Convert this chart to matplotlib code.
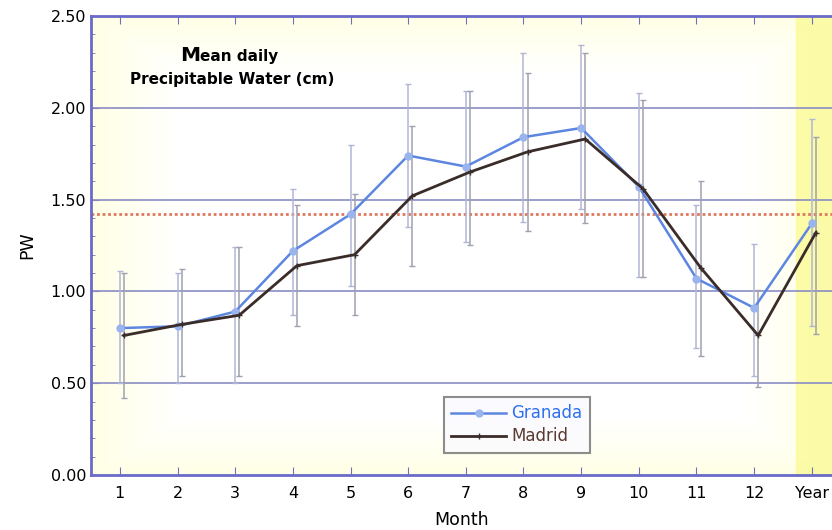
import numpy as np
import matplotlib
matplotlib.use("Agg")
import matplotlib.pyplot as plt
from matplotlib.ticker import MultipleLocator

months = ["1", "2", "3", "4", "5", "6", "7", "8", "9", "10", "11", "12", "Year"]

granada = [0.80, 0.81, 0.89, 1.22, 1.42, 1.74, 1.68, 1.84, 1.89, 1.57, 1.07, 0.91, 1.37]
granada_hi = [1.11, 1.10, 1.24, 1.56, 1.80, 2.13, 2.09, 2.30, 2.34, 2.08, 1.47, 1.26, 1.94]
granada_lo = [0.50, 0.50, 0.50, 0.87, 1.03, 1.35, 1.27, 1.38, 1.45, 1.08, 0.69, 0.54, 0.81]

madrid = [0.76, 0.82, 0.87, 1.14, 1.20, 1.52, 1.65, 1.76, 1.83, 1.56, 1.13, 0.76, 1.32]
madrid_hi = [1.10, 1.12, 1.24, 1.47, 1.53, 1.90, 2.09, 2.19, 2.30, 2.04, 1.60, 1.01, 1.84]
madrid_lo = [0.42, 0.54, 0.54, 0.81, 0.87, 1.14, 1.25, 1.33, 1.37, 1.08, 0.65, 0.48, 0.77]

mean_level = 1.42

x = np.arange(1, len(months) + 1)
xm = x + 0.07

fig = plt.figure(figsize=(8.32, 5.30), dpi=100)
ax = fig.add_axes([0.1094, 0.1038, 0.8906, 0.866])

# pale yellow backdrop with a whiter centre
ny, nx = 200, 400
yy, xx = np.mgrid[0:1:ny * 1j, 0:1:nx * 1j]
edge = np.minimum.reduce([xx, 1 - xx, yy, 1 - yy])
w = np.clip(edge / 0.12, 0, 1)
img = np.ones((ny, nx, 3))
img[..., 2] = 0.90 + 0.10 * w
ax.imshow(img, extent=[0.5, 13.35, 0, 2.5], aspect="auto", zorder=0)
ax.axvspan(12.72, 13.35, color="#fbfb9c", alpha=0.85, zorder=1)

for yv in [0.5, 1.0, 1.5, 2.0]:
    ax.axhline(yv, color="#8a8cc4", lw=1.2, zorder=2)
ax.axhline(mean_level, color="#e07860", lw=2, ls=(0, (1, 1)), zorder=2)

g_err = [np.array(granada) - np.array(granada_lo), np.array(granada_hi) - np.array(granada)]
m_err = [np.array(madrid) - np.array(madrid_lo), np.array(madrid_hi) - np.array(madrid)]
ax.errorbar(x, granada, yerr=g_err, fmt="none", ecolor="#b0b6d6", elinewidth=1.1,
            capsize=2.5, capthick=1, zorder=3)
ax.errorbar(xm, madrid, yerr=m_err, fmt="none", ecolor="#a0a0ae", elinewidth=1.1,
            capsize=2.5, capthick=1, zorder=3)

ax.plot(x, granada, color="#5d86e0", lw=1.8, marker="o", ms=5,
        mfc="#9ab4ee", mec="#9ab4ee", zorder=4, label="Granada")
ax.plot(xm, madrid, color="#3a2c28", lw=2.0, marker="+", ms=5,
        mec="#3a2c28", zorder=5, label="Madrid")

ax.set_xlim(0.5, 13.35)
ax.set_ylim(0, 2.5)
ax.set_xticks(x)
ax.set_xticklabels(months)
ax.yaxis.set_major_locator(MultipleLocator(0.5))
ax.yaxis.set_minor_locator(MultipleLocator(0.1))
ax.yaxis.set_major_formatter(matplotlib.ticker.FormatStrFormatter("%.2f"))
ax.tick_params(axis="both", which="both", direction="in", color="#7070b8",
               labelsize=11.5, top=True)
ax.tick_params(axis="y", which="major", length=6)
ax.tick_params(axis="y", which="minor", length=3)
ax.tick_params(axis="x", length=6, pad=8)

for side in ["left", "bottom", "top"]:
    ax.spines[side].set_color("#6a6ac8")
    ax.spines[side].set_linewidth(2)
ax.spines["right"].set_visible(False)

ax.set_xlabel("Month", fontsize=12.5, labelpad=7)
ax.set_ylabel("PW", fontsize=12.5, labelpad=10)

ax.text(2.39, 2.255, "M", fontsize=14.5, fontweight="bold", ha="right", va="baseline")
ax.text(2.39, 2.255, "ean daily", fontsize=11, fontweight="bold", ha="left", va="baseline")
ax.text(2.95, 2.13, "Precipitable Water (cm)", fontsize=11, fontweight="bold",
        ha="center", va="baseline")

leg = ax.legend(loc="lower left", bbox_to_anchor=(0.476, 0.048), fontsize=12,
                frameon=True, fancybox=False, handlelength=3.3, borderpad=0.45,
                labelspacing=0.3, handletextpad=0.3, borderaxespad=0)
leg.get_frame().set_edgecolor("#707070")
leg.get_frame().set_linewidth(1.5)
leg.get_frame().set_facecolor("#fbfbff")
leg.get_texts()[0].set_color("#2d6ff0")
leg.get_texts()[1].set_color("#5a3a30")
leg.set_zorder(6)

fig.savefig("out.png", dpi=100)
